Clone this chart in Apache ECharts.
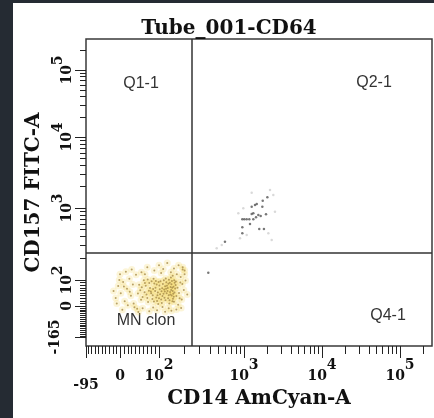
<!DOCTYPE html>
<html><head><meta charset="utf-8">
<script src="https://cdn.jsdelivr.net/npm/echarts@6/dist/echarts.min.js"></script>
<style>
html,body{margin:0;padding:0;background:#252b33;width:434px;height:418px;overflow:hidden}
#panel{position:absolute;left:13px;top:3px;width:421px;height:415px;background:#fff}
#chart{position:absolute;left:0;top:0;width:434px;height:418px}
</style></head><body>
<div id="panel"></div><div id="chart"></div>
<script>
// ---------- data ----------
const chartTitle = 'Tube_001-CD64';
const xName = 'CD14 AmCyan-A';
const yName = 'CD157 FITC-A';
const xTickValues = [-95, 0, 100, 1000, 10000, 100000];
const xTickLabels = ['-95', '0', '10^2', '10^3', '10^4', '10^5'];
const yTickValues = [-165, 0, 100, 1000, 10000, 100000];
const yTickLabels = ['-165', '0', '10^2', '10^3', '10^4', '10^5'];
const gateCD14 = 244;
const gateCD157 = 237;
const quadrantNames = ['Q1-1', 'Q2-1', 'MN clon', 'Q4-1'];

// MN clon population [CD14, CD157]
const mnClon = [
[52,61],[68,44],[75,88],[83,27],[91,70],[97,52],[104,95],[110,38],[118,76],[126,58],[133,22],[140,84],[147,47],[155,67],
[61,99],[72,15],[86,104],[93,33],[101,79],[108,12],[115,63],[122,91],[130,41],[137,73],[144,18],[151,99],
[58,35],[66,78],[79,56],[88,87],[95,19],[102,64],[113,47],[120,105],[128,30],[135,54],[142,96],[149,36],[157,81],
[49,82],[63,53],[77,69],[84,41],[99,92],[106,25],[117,56],[124,78],[131,101],[139,62],[146,28],[153,89],
[46,48],[70,31],[81,95],[90,58],[98,8],[111,85],[119,22],[127,69],[134,89],[141,40],[148,74],
[56,72],[74,59],[87,17],[94,83],[103,45],[109,68],[116,32],[123,49],[132,10],[138,108],[145,58],[152,52],[160,38],
[64,88],[80,49],[92,96],[100,30],[107,57],[114,99],[121,66],[129,86],[136,44],[143,70],[150,16],[158,94],[54,24],[71,102],[85,65],[96,41],
[-18,58],[-12,31],[-5,77],[2,49],[8,92],[12,18],[18,66],[24,104],[28,39],[33,83],[37,-6],[41,118],[44,-14],[20,3],[6,-20],[-9,10],
[0,120],[15,130],[30,140],[55,128],[70,150],[88,135],[100,160],[112,142],[125,172],[138,128],[150,145],[162,120],[170,160],
[180,110],[188,85],[196,62],[205,98],[215,44],[175,30],[168,5],[182,-10],[160,-18],[140,-25],[118,-30],[95,-22],[75,-28],
[58,-12],[47,-32],[85,-8],[110,-5],[130,-12],[190,140],[200,120],[165,70],[172,50],[178,90],[185,25],[35,10],[25,55],[10,75],
[-2,100],[64,120],[106,125],[145,115],[190,150],[200,135]
];
// Q2 population [CD14, CD157]
const q2Cells = [
[1992,1416],[1738,1267],[1456,1138],[1255,1043],[1384,1102],[1718,1043],[1915,818],[1637,774],[1525,800],[1426,743],
[1316,844],[1255,826],[1169,697],[1083,697],[1009,697],[955,697],[1194,600],[1316,697],[955,539],[955,445],
[1570,511],[1803,511],[597,340],[380,126]
];
const q2Faint = [
[1255,1641],[2154,1795],[2376,1524],[2495,889],[981,991],[857,844],[897,380],[1083,422],[2051,445],[2265,359],[547,306],[477,275]
];

// ---------- display scale (biexponential-like) ----------
const X_SCALE = {vals: [-95, 0, 100, 1000, 10000, 100000, 262143], pos: [0, 34, 73, 158, 236, 314, 346]};
const Y_SCALE = {vals: [-165, 0, 100, 1000, 10000, 100000, 262143], pos: [9, 40, 66, 138, 209, 276, 304]};
function makeT(s) {
  return function (v) {
    const V = s.vals, P = s.pos;
    let i = 0;
    while (i < V.length - 2 && v > V[i + 1]) i++;
    const a = V[i], b = V[i + 1];
    let f;
    if (a >= 100) f = (Math.log10(v) - Math.log10(a)) / (Math.log10(b) - Math.log10(a));
    else f = (v - a) / (b - a);
    return P[i] + f * (P[i + 1] - P[i]);
  };
}
const Tx = makeT(X_SCALE), Ty = makeT(Y_SCALE);
const X_MAX = 346, Y_MAX = 307;

function minorTicks(linStart, linEnd) {
  const out = [];
  for (let v = linStart; v <= linEnd; v += 10) if (v !== 0) out.push(v);
  for (let d = 100; d <= 100000; d *= 10) for (let k = 2; k <= 9; k++) if (d * k <= 262143) out.push(d * k);
  return out;
}
const xMinor = minorTicks(-90, 90);
const yMinor = minorTicks(-160, 90);

function richLabel(s) {
  if (s.indexOf('^') >= 0) { const p = s.split('^'); return '{b|' + p[0] + '}{s|' + p[1] + '}'; }
  if (s.charAt(0) === '-') return '{lo|' + s + '}';
  return '{b|' + s + '}';
}
function makeFmt(vals, labels, T) {
  return function (v) {
    for (let i = 0; i < vals.length; i++) if (Math.abs(T(vals[i]) - v) < 0.01) return richLabel(labels[i]);
    return '';
  };
}
const tickFont = {fontFamily: 'DejaVu Serif', fontWeight: 'bold', fontSize: 14, color: '#111', lineHeight: 16};
function rich(sup, loPad) {
  return {
    b: Object.assign({}, tickFont, {padding: [sup, 0, 0, 0]}),
    s: Object.assign({}, tickFont, {padding: [0, 0, sup, 0]}),
    lo: Object.assign({}, tickFont, {padding: loPad})
  };
}
const nameStyle = {fontFamily: 'DejaVu Serif', fontWeight: 'bold', fontSize: 20, color: '#111'};
const tickLine = {color: '#222', width: 1};

const chart = echarts.init(document.getElementById('chart'));
const qFont = '16px "Liberation Sans"';
chart.setOption({
  animation: false,
  backgroundColor: 'transparent',
  grid: {left: 86, right: 2, top: 39, bottom: 72, show: true, borderColor: '#3a3a3a', borderWidth: 1.5, backgroundColor: 'transparent'},
  graphic: [
    {type: 'text', x: 229, y: 29, style: {text: chartTitle, font: 'bold 20px "DejaVu Serif"', fill: '#111', align: 'center', verticalAlign: 'middle'}},
    {type: 'text', x: 141, y: 84, style: {text: quadrantNames[0], font: qFont, fill: '#333', align: 'center', verticalAlign: 'middle'}},
    {type: 'text', x: 374, y: 83, style: {text: quadrantNames[1], font: qFont, fill: '#333', align: 'center', verticalAlign: 'middle'}},
    {type: 'text', x: 146, y: 321, style: {text: quadrantNames[2], font: qFont, fill: '#333', align: 'center', verticalAlign: 'middle'}},
    {type: 'text', x: 388, y: 316, style: {text: quadrantNames[3], font: qFont, fill: '#333', align: 'center', verticalAlign: 'middle'}}
  ],
  xAxis: [
    {type: 'value', min: 0, max: X_MAX, position: 'bottom', axisLine: {show: false}, splitLine: {show: false},
     axisTick: {show: true, customValues: xTickValues.map(Tx), length: 12, lineStyle: tickLine},
     axisLabel: {customValues: xTickValues.map(Tx), formatter: makeFmt(xTickValues, xTickLabels, Tx), margin: 17, rich: rich(11, [28, 0, 0, 0])},
     name: xName, nameLocation: 'middle', nameGap: 43, nameMoveOverlap: false, nameTextStyle: nameStyle},
    {type: 'value', min: 0, max: X_MAX, position: 'bottom', axisLine: {show: false}, splitLine: {show: false},
     axisTick: {show: true, customValues: xMinor.map(Tx), length: 8, lineStyle: tickLine},
     axisLabel: {show: false}}
  ],
  yAxis: [
    {type: 'value', min: 0, max: Y_MAX, position: 'left', axisLine: {show: false}, splitLine: {show: false},
     axisTick: {show: true, customValues: yTickValues.map(Ty), length: 11, lineStyle: tickLine},
     axisLabel: {customValues: yTickValues.map(Ty), formatter: makeFmt(yTickValues, yTickLabels, Ty), margin: 15, rotate: 90, rich: rich(9, [0, 0, 15, 0])},
     name: yName, nameLocation: 'middle', nameGap: 42, nameMoveOverlap: false, nameTextStyle: nameStyle},
    {type: 'value', min: 0, max: Y_MAX, position: 'left', axisLine: {show: false}, splitLine: {show: false},
     axisTick: {show: true, customValues: yMinor.map(Ty), length: 6, lineStyle: tickLine},
     axisLabel: {show: false}}
  ],
  series: [
    {type: 'scatter', name: 'mnHalo', silent: true, symbolSize: 7, itemStyle: {color: 'rgba(245,218,105,0.32)'},
     data: mnClon.map(p => [Tx(p[0]), Ty(p[1])]), z: 1},
    {type: 'scatter', name: 'MN clon', silent: true, symbolSize: 2, itemStyle: {color: '#a88c48'},
     data: mnClon.map(p => [Tx(p[0]), Ty(p[1])]), z: 3,
     markLine: {silent: true, symbol: 'none', label: {show: false}, animation: false,
       lineStyle: {color: '#333', width: 1.5, type: 'solid'},
       data: [{xAxis: Tx(gateCD14)}, {yAxis: Ty(gateCD157)}]}},
    {type: 'scatter', name: 'q2Faint', silent: true, symbolSize: 2.5, itemStyle: {color: '#d0d0d0'},
     data: q2Faint.map(p => [Tx(p[0]), Ty(p[1])]), z: 2},
    {type: 'scatter', name: 'Q2', silent: true, symbolSize: 2.5, itemStyle: {color: '#555'},
     data: q2Cells.map(p => [Tx(p[0]), Ty(p[1])]), z: 3}
  ]
});
</script>
</body></html>
